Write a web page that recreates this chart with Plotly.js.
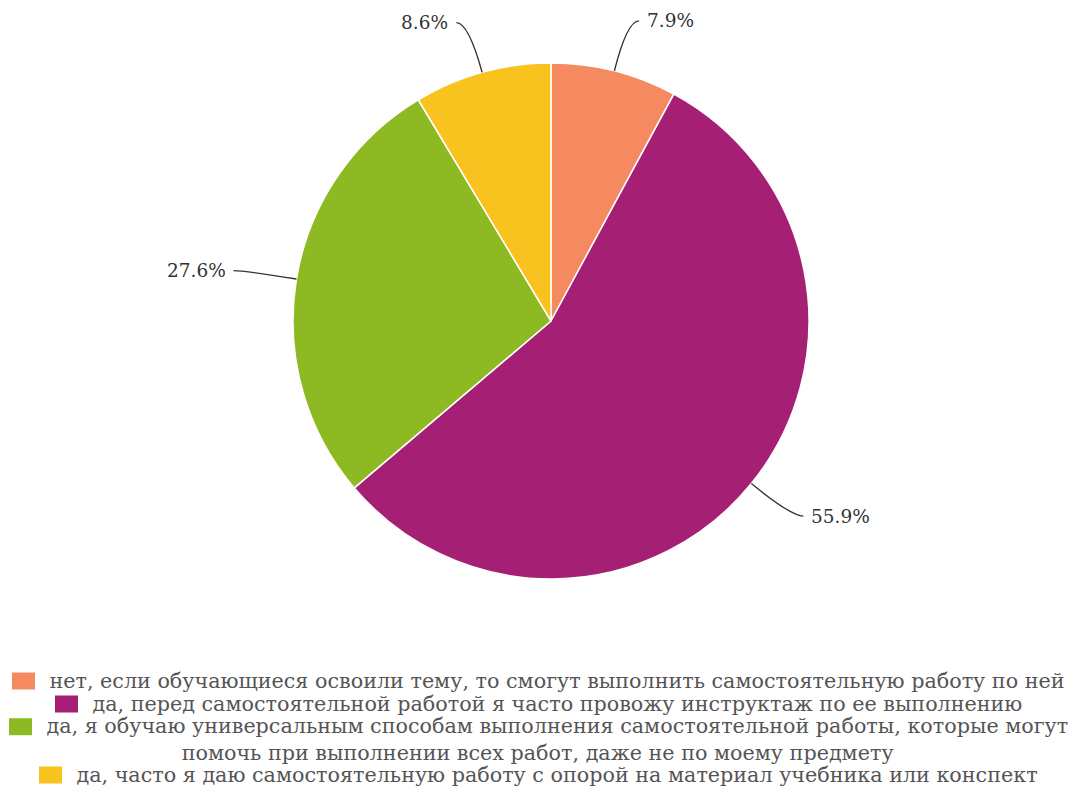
<!DOCTYPE html>
<html><head><meta charset="utf-8">
<script src="https://cdn.plot.ly/plotly-3.0.1.min.js"></script>
<style>html,body{margin:0;padding:0;background:#fff;overflow:hidden;} #chart{width:1068px;height:787px;}</style>
</head><body><div id="chart"></div>
<script>
const categories = [
  "нет, если обучающиеся освоили тему, то смогут выполнить самостоятельную работу по ней",
  "да, перед самостоятельной работой я часто провожу инструктаж по ее выполнению",
  "да, я обучаю универсальным способам выполнения самостоятельной работы, которые могут<br>помочь при выполнении всех работ, даже не по моему предмету",
  "да, часто я даю самостоятельную работу с опорой на материал учебника или конспект"
];
const values = [7.9, 55.9, 27.6, 8.6];
const valueLabels = ["7.9%", "55.9%", "27.6%", "8.6%"];
const colors = ["#f58a60", "#a51f75", "#8db922", "#f9c31f"];

const W = 1068, H = 787;
const cx = 551, cy = 321, R = 258;
const legendCenterY = [681, 704, 739.5, 775];
const legendCenterX = 537;

const px = x => x / W;
const py = y => 1 - y / H;

const total = values.reduce((a, b) => a + b, 0);
const shapes = [];
const annotations = [];
let cum = 0;
values.forEach((v, i) => {
  const th = (cum + v / 2) / total * 2 * Math.PI;
  cum += v;
  const dx = Math.sin(th), dy = -Math.cos(th);
  const side = dx >= 0 ? 1 : -1;
  const p0 = [cx + R * dx, cy + R * dy];
  const c = [cx + 1.2 * R * dx, cy + 1.2 * R * dy];
  const e = [c[0] + side * 12, c[1]];
  shapes.push({
    type: "path", xref: "paper", yref: "paper",
    path: `M ${px(p0[0])} ${py(p0[1])} Q ${px(c[0])} ${py(c[1])} ${px(e[0])} ${py(e[1])}`,
    line: { color: "#333", width: 1.4 }
  });
  annotations.push({
    xref: "paper", yref: "paper", x: px(e[0]), y: py(e[1]),
    xanchor: side > 0 ? "left" : "right", yanchor: "middle",
    xshift: side * 6, showarrow: false, text: valueLabels[i],
    font: { family: "DejaVu Serif", size: 18.5, color: "#333" }
  });
});

const placeholder = "&nbsp;".repeat(6);
categories.forEach((t, i) => {
  annotations.push({
    xref: "paper", yref: "paper", x: px(legendCenterX), y: py(legendCenterY[i]),
    xanchor: "center", yanchor: "middle", showarrow: false, align: "center",
    text: placeholder + t,
    font: { family: "DejaVu Serif", size: 20.7, color: "#555" },
    name: "leg" + i
  });
});

const data = [{
  type: "pie", values: values, labels: categories,
  sort: false, direction: "clockwise", rotation: 0,
  marker: { colors: colors, line: { color: "#fff", width: 1.5 } },
  textinfo: "none", hoverinfo: "none",
  domain: { x: [px(cx - R), px(cx + R)], y: [py(cy + R), py(cy - R)] }
}];

const layout = {
  width: W, height: H, margin: { l: 0, r: 0, t: 0, b: 0, pad: 0 },
  paper_bgcolor: "#fff", showlegend: false,
  shapes: shapes, annotations: annotations
};

const gd = document.getElementById("chart");
Plotly.newPlot(gd, data, layout, { staticPlot: true }).then(() => {
  const root = gd.getBoundingClientRect();
  const texts = gd.querySelectorAll(".annotation-text");
  const legShapes = [];
  const nLab = values.length;
  categories.forEach((t, i) => {
    const el = texts[nLab + i];
    if (!el) return;
    const r = el.getBoundingClientRect();
    const x0 = r.left - root.left + 2;
    const lineH = r.height / ((t.match(/<br>/g) || []).length + 1);
    const ymid = r.top - root.top + lineH / 2;
    legShapes.push({
      type: "rect", xref: "paper", yref: "paper",
      x0: px(x0), x1: px(x0 + 23), y0: py(ymid - 8.5), y1: py(ymid + 8.5),
      fillcolor: colors[i], line: { width: 0 }
    });
  });
  Plotly.relayout(gd, { shapes: shapes.concat(legShapes) });
});
</script></body></html>
